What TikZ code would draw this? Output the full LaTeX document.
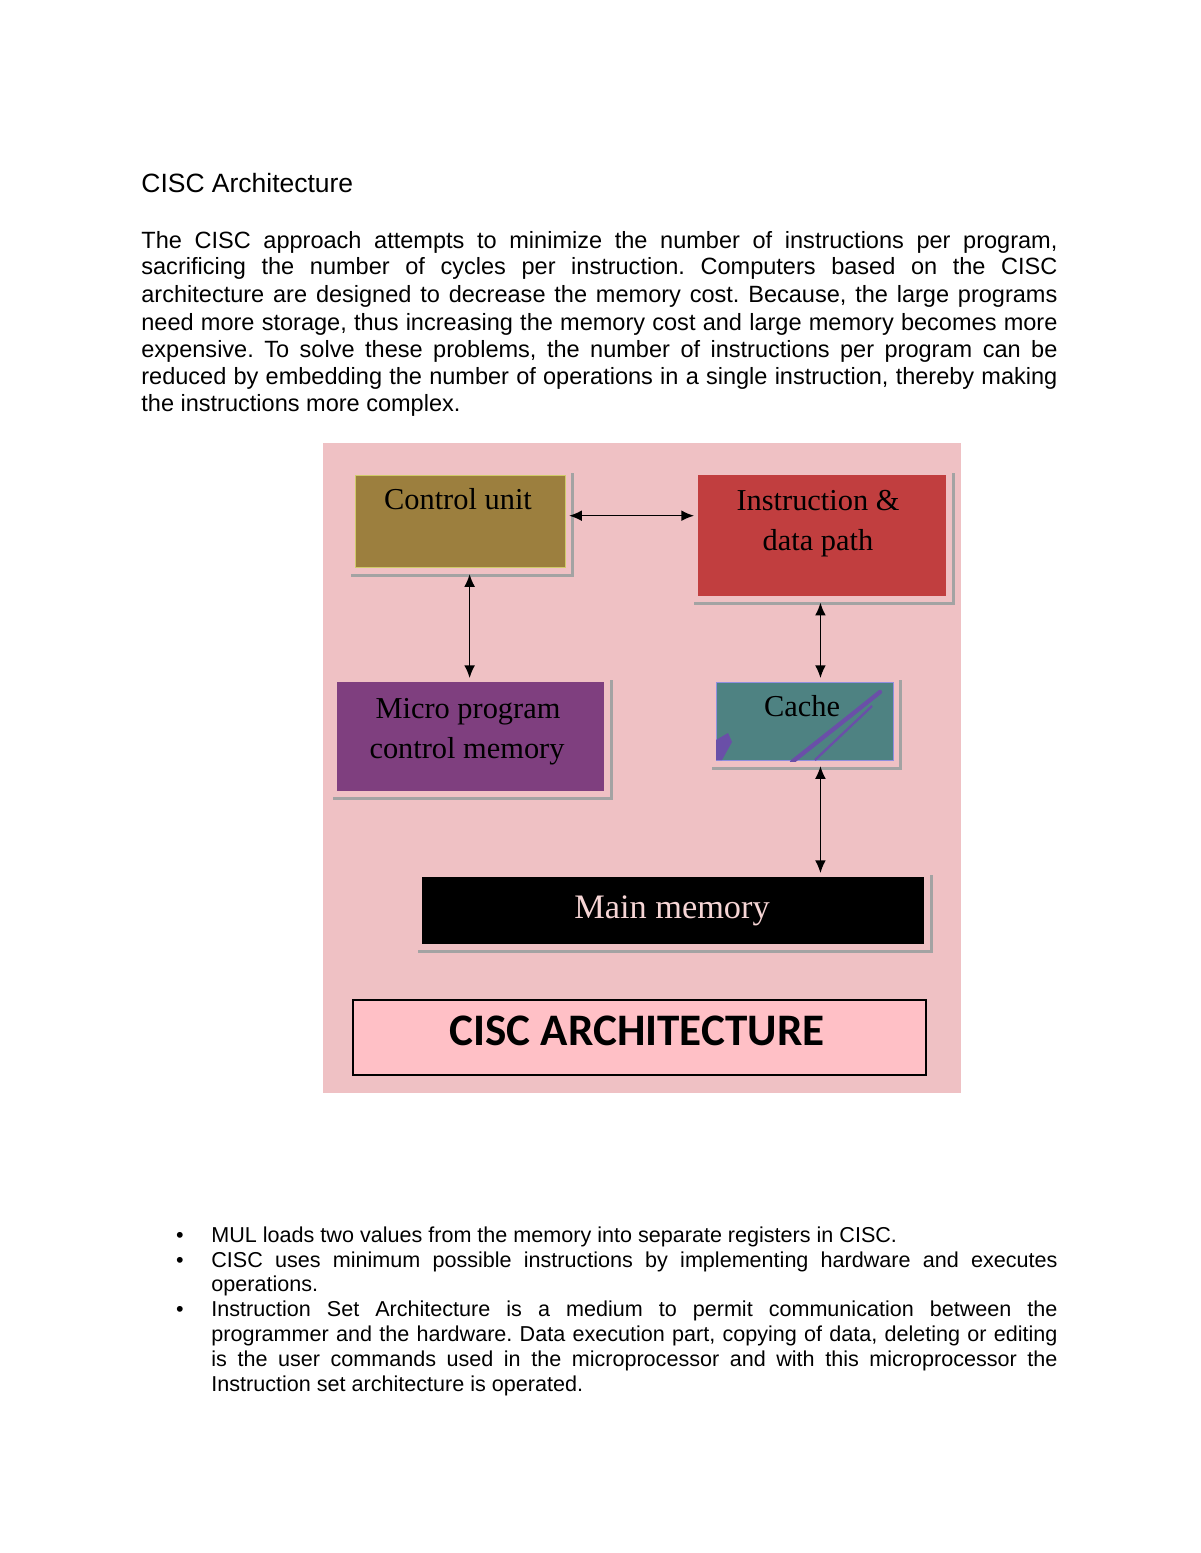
\documentclass[tikz,border=0pt]{standalone}
\usepackage{fontspec}
\setmainfont{Liberation Sans}
\newfontfamily\timesf{Liberation Serif}
\newfontfamily\calib{Carlito}
\usetikzlibrary{arrows.meta}
\frenchspacing
\definecolor{bgpink}{HTML}{EFC1C4}
\definecolor{cuolive}{HTML}{9C7F3E}
\definecolor{cuborder}{HTML}{CFCB6A}
\definecolor{idpred}{HTML}{C13E3F}
\definecolor{micropurple}{HTML}{7F3F7F}
\definecolor{cacheteal}{HTML}{4E8282}
\definecolor{cacheborder}{HTML}{8F8FE0}
\definecolor{streak}{HTML}{6A4FA8}
\definecolor{mmtext}{HTML}{F6D5D5}
\definecolor{titlepink}{HTML}{FFC0C6}
\definecolor{shadowgray}{HTML}{A3A3A3}
\begin{document}
\begin{tikzpicture}[x=0.51pt,y=-0.51pt,
  box/.style={rectangle, inner sep=0pt, anchor=north west},
  boxtext/.style={font=\timesf\fontsize{15.5}{18}\selectfont, anchor=base, inner sep=0pt},
  shadowline/.style={draw=shadowgray, line width=1.5pt},
  conn/.style={{Latex[length=6.5pt,width=5.5pt]}-{Latex[length=6.5pt,width=5.5pt]}, line width=0.75pt},
  bodyline/.style={anchor=base west, inner sep=0pt, font=\fontsize{12}{14}\selectfont},
  bulletline/.style={anchor=base west, inner sep=0pt, font=\fontsize{11}{13}\selectfont},
  bulletdot/.style={anchor=base, inner sep=0pt, font=\fontsize{11}{13}\selectfont}]
\useasboundingbox (0,0) rectangle (1200,1553);
\fill[white] (0,0) rectangle (1200,1553);

% heading and paragraph
\node[anchor=base west, inner sep=0pt, font=\fontsize{13.5}{16}\selectfont] (head) at (141,193) {CISC Architecture};
\node[bodyline] (p1) at (141,248) {\makebox[467.2pt][s]{The CISC approach attempts to minimize the number of instructions per program,}};
\node[bodyline] (p2) at (141,275) {\makebox[467.2pt][s]{sacrificing the number of cycles per instruction. Computers based on the CISC}};
\node[bodyline] (p3) at (141,302) {\makebox[467.2pt][s]{architecture are designed to decrease the memory cost. Because, the large programs}};
\node[bodyline] (p4) at (141,330) {\makebox[467.2pt][s]{need more storage, thus increasing the memory cost and large memory becomes more}};
\node[bodyline] (p5) at (141,357) {\makebox[467.2pt][s]{expensive. To solve these problems, the number of instructions per program can be}};
\node[bodyline] (p6) at (141,384) {\makebox[467.2pt][s]{reduced by embedding the number of operations in a single instruction, thereby making}};
\node[bodyline] (p7) at (141,411) {the instructions more complex.};

% diagram background
\fill[bgpink] (323,443) rectangle (961,1093);

% boxes
\node[box, fill=cuolive, draw=cuborder, line width=0.6pt, minimum width=107.1pt, minimum height=46.92pt] (cu) at (355,475) {};
\node[box, fill=idpred, minimum width=126.48pt, minimum height=61.71pt] (idp) at (698,475) {};
\node[box, fill=micropurple, minimum width=136.17pt, minimum height=55.59pt] (micro) at (337,682) {};
\node[box, fill=cacheteal, draw=cacheborder, line width=0.6pt, minimum width=90.27pt, minimum height=39.78pt] (cache) at (716,682) {};
\node[box, fill=black, minimum width=256.02pt, minimum height=34.17pt] (mm) at (422,877) {};
\node[box, fill=titlepink, draw=black, line width=0.8pt, minimum width=292.23pt, minimum height=38.25pt] (title) at (352,999) {};

% shadows
\foreach \b in {cu,idp,micro,cache,mm}{
  \draw[shadowline] ([shift={(-2pt,-3.6pt)}]\b.south west) -| ([shift={(3.2pt,1pt)}]\b.north east);
}

% cache streaks
\begin{scope}
\clip (cache.south west) rectangle (cache.north east);
\draw[streak, line width=2.2pt, line cap=round] (792,762) -- (850,716) -- (880,692);
\draw[streak, line width=1.2pt] (815,760) -- (872,706);
\fill[streak] (716,760) -- (716,740) -- (728,733) -- (732,742) -- (722,760) -- cycle;
\end{scope}

% box texts
\node[boxtext] (cutext) at (458,509) {Control unit};
\node[boxtext] (idptext1) at (818,510) {Instruction \&};
\node[boxtext] (idptext2) at (818,550) {data path};
\node[boxtext] (microtext1) at (468,718) {Micro program};
\node[boxtext] (microtext2) at (467,758) {control memory};
\node[boxtext] (cachetext) at (802,716) {Cache};
\node[boxtext, font=\timesf\fontsize{17.5}{20}\selectfont, text=mmtext] (mmtext) at (672,918) {Main memory};
\node[anchor=base, inner sep=0pt, font=\calib\bfseries\fontsize{23}{26}\selectfont] (titletext) at (637,1045) {CISC ARCHITECTURE};

% connectors
\draw[conn] ([xshift=1.5pt,yshift=3pt]cu.east) -- ([xshift=-2pt,yshift=3pt]cu.east -| idp.west);
\draw[conn] ([xshift=4.6pt,yshift=-3pt]cu.south) -- ([xshift=4.6pt,yshift=2pt]cu.south |- micro.north);
\coordinate (colx) at ([xshift=-1pt]idp.south);
\draw[conn] ([yshift=-3pt]colx) -- ([yshift=2pt]colx |- cache.north);
\draw[conn] ([yshift=-2.5pt]colx |- cache.south) -- ([yshift=2pt]colx |- mm.north);

% bullets
\node[bulletdot] (d1) at (180,1242) {•};
\node[bulletdot] (d2) at (180,1267) {•};
\node[bulletdot] (d3) at (180,1316) {•};
\node[bulletline] (b1) at (211,1242) {MUL loads two values from the memory into separate registers in CISC.};
\node[bulletline] (b2) at (211,1267) {\makebox[431.5pt][s]{CISC uses minimum possible instructions by implementing hardware and executes}};
\node[bulletline] (b3) at (211,1291) {operations.};
\node[bulletline] (b4) at (211,1316) {\makebox[431.5pt][s]{Instruction Set Architecture is a medium to permit communication between the}};
\node[bulletline] (b5) at (211,1341) {\makebox[431.5pt][s]{programmer and the hardware. Data execution part, copying of data, deleting or editing}};
\node[bulletline] (b6) at (211,1366) {\makebox[431.5pt][s]{is the user commands used in the microprocessor and with this microprocessor the}};
\node[bulletline] (b7) at (211,1391) {Instruction set architecture is operated.};
\end{tikzpicture}
\end{document}
